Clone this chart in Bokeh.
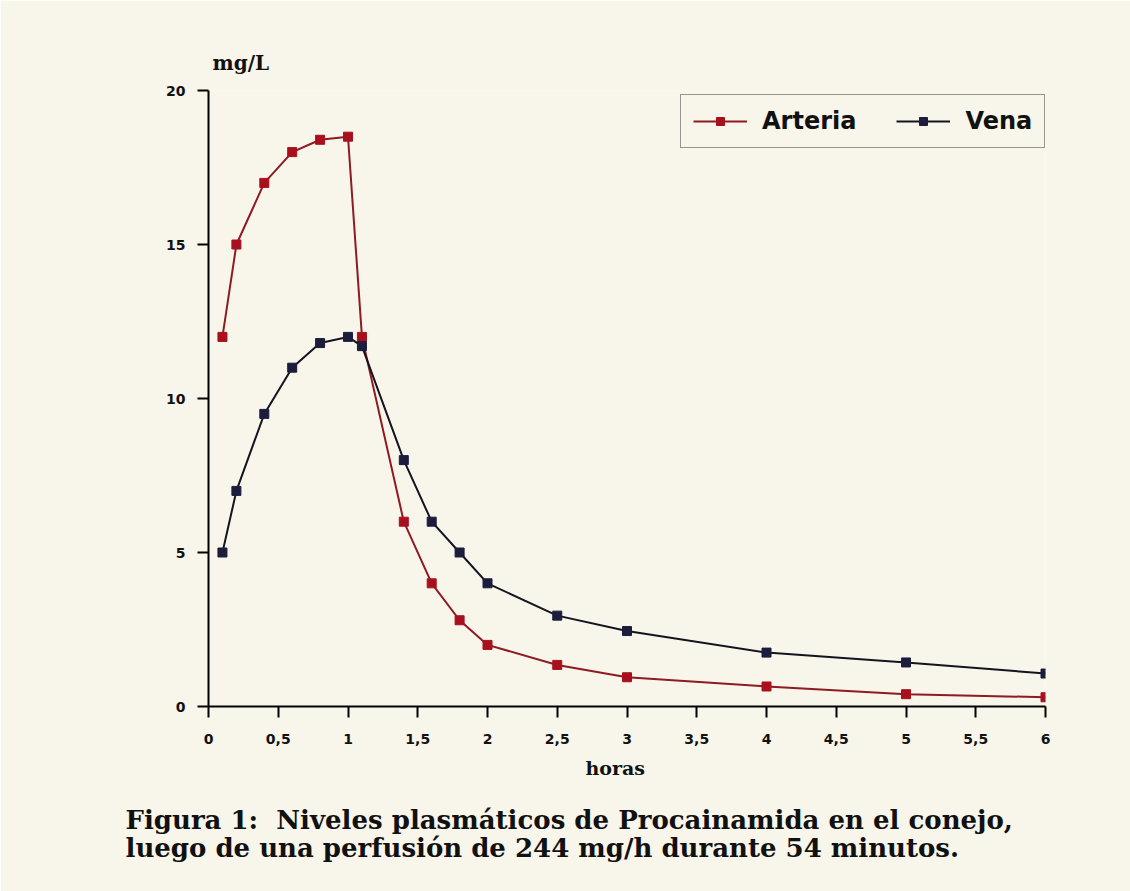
from bokeh.plotting import figure
from bokeh.models import Range1d, FixedTicker, Title, Legend, LegendItem
from bokeh.embed import file_html
from bokeh.resources import INLINE

# Sampling times (hours) and plasma levels (mg/L)
horas = [0.1, 0.2, 0.4, 0.6, 0.8, 1.0, 1.1, 1.4, 1.6, 1.8, 2.0, 2.5, 3.0, 4.0, 5.0, 6.0]
arteria = [12.0, 15.0, 17.0, 18.0, 18.4, 18.5, 12.0, 6.0, 4.0, 2.8, 2.0, 1.35, 0.95, 0.65, 0.4, 0.3]
vena = [5.0, 7.0, 9.5, 11.0, 11.8, 12.0, 11.7, 8.0, 6.0, 5.0, 4.0, 2.95, 2.45, 1.75, 1.43, 1.07]

x_ticks = [0, 0.5, 1, 1.5, 2, 2.5, 3, 3.5, 4, 4.5, 5, 5.5, 6]
x_tick_labels = ["0", "0,5", "1", "1,5", "2", "2,5", "3", "3,5", "4", "4,5", "5", "5,5", "6"]
y_ticks = [0, 5, 10, 15, 20]

BG = "#f8f5eb"
RED_LINE = "#8e1a22"
RED_MARK = "#a8101e"
BLUE_LINE = "#141420"
BLUE_MARK = "#1c1c3c"
INK = "#111111"
serif = "DejaVu Serif"

p = figure(width=1130, height=891, output_backend="svg", toolbar_location=None,
           x_range=Range1d(0, 6), y_range=Range1d(0, 20),
           min_border_left=208, min_border_right=85,
           min_border_top=90, min_border_bottom=185)
p.background_fill_color = BG
p.border_fill_color = BG
p.outline_line_color = None
p.grid.visible = False

# axes
for ax in (p.xaxis[0], p.yaxis[0]):
    ax.axis_line_color = "black"
    ax.axis_line_width = 2
    ax.major_tick_line_color = "black"
    ax.major_tick_line_width = 2
    ax.major_tick_in = 0
    ax.major_tick_out = 11
    ax.minor_tick_line_color = None
    ax.major_label_text_font = "DejaVu Sans"
    ax.major_label_text_font_style = "bold"
    ax.major_label_text_font_size = "14px"
    ax.major_label_text_color = INK

p.xaxis.ticker = FixedTicker(ticks=x_ticks)
p.xaxis.major_label_overrides = {t: l for t, l in zip(x_ticks, x_tick_labels)}
p.xaxis.major_label_standoff = 16
p.yaxis.ticker = FixedTicker(ticks=y_ticks)
p.yaxis.major_label_standoff = 12

# series
r_art_line = p.line(horas, arteria, line_color=RED_LINE, line_width=2)
r_art_pts = p.scatter(horas, arteria, marker="square", size=9,
                      fill_color=RED_MARK, line_color=RED_MARK)
r_ven_line = p.line(horas, vena, line_color=BLUE_LINE, line_width=2)
r_ven_pts = p.scatter(horas, vena, marker="square", size=9,
                      fill_color=BLUE_MARK, line_color=BLUE_MARK)

legend = Legend(items=[LegendItem(label="Arteria", renderers=[r_art_line, r_art_pts]),
                       LegendItem(label="Vena", renderers=[r_ven_line, r_ven_pts])],
                orientation="horizontal", location=(472, 558))
legend.background_fill_color = BG
legend.background_fill_alpha = 1
legend.border_line_color = "#333333"
legend.border_line_width = 1
legend.label_text_font = "DejaVu Sans"
legend.label_text_font_style = "bold"
legend.label_text_font_size = "24px"
legend.label_text_color = INK
legend.glyph_width = 54
legend.label_standoff = 15
legend.spacing = 40
legend.padding = 12
legend.margin = 0
p.add_layout(legend, "center")

# unit label above the value axis
p.add_layout(Title(text="mg/L", align="left", offset=4, standoff=31,
                   text_font=serif, text_font_style="bold", text_font_size="20px",
                   text_color=INK), "above")

# axis name and two-line figure caption below the time axis
p.add_layout(Title(text="horas", align="left", offset=377, standoff=16,
                   text_font=serif, text_font_style="bold", text_font_size="19px",
                   text_color=INK), "below")
p.add_layout(Title(text="Figura 1:\u00a0 Niveles plasmáticos de Procainamida en el conejo,\n"
                        "luego de una perfusión de 244 mg/h durante 54 minutos.",
                   align="left", offset=-83, standoff=33,
                   text_font=serif, text_font_style="bold", text_font_size="26px",
                   text_line_height=0.92, text_color=INK), "below")

open("out.html", "w").write(file_html(p, INLINE))
